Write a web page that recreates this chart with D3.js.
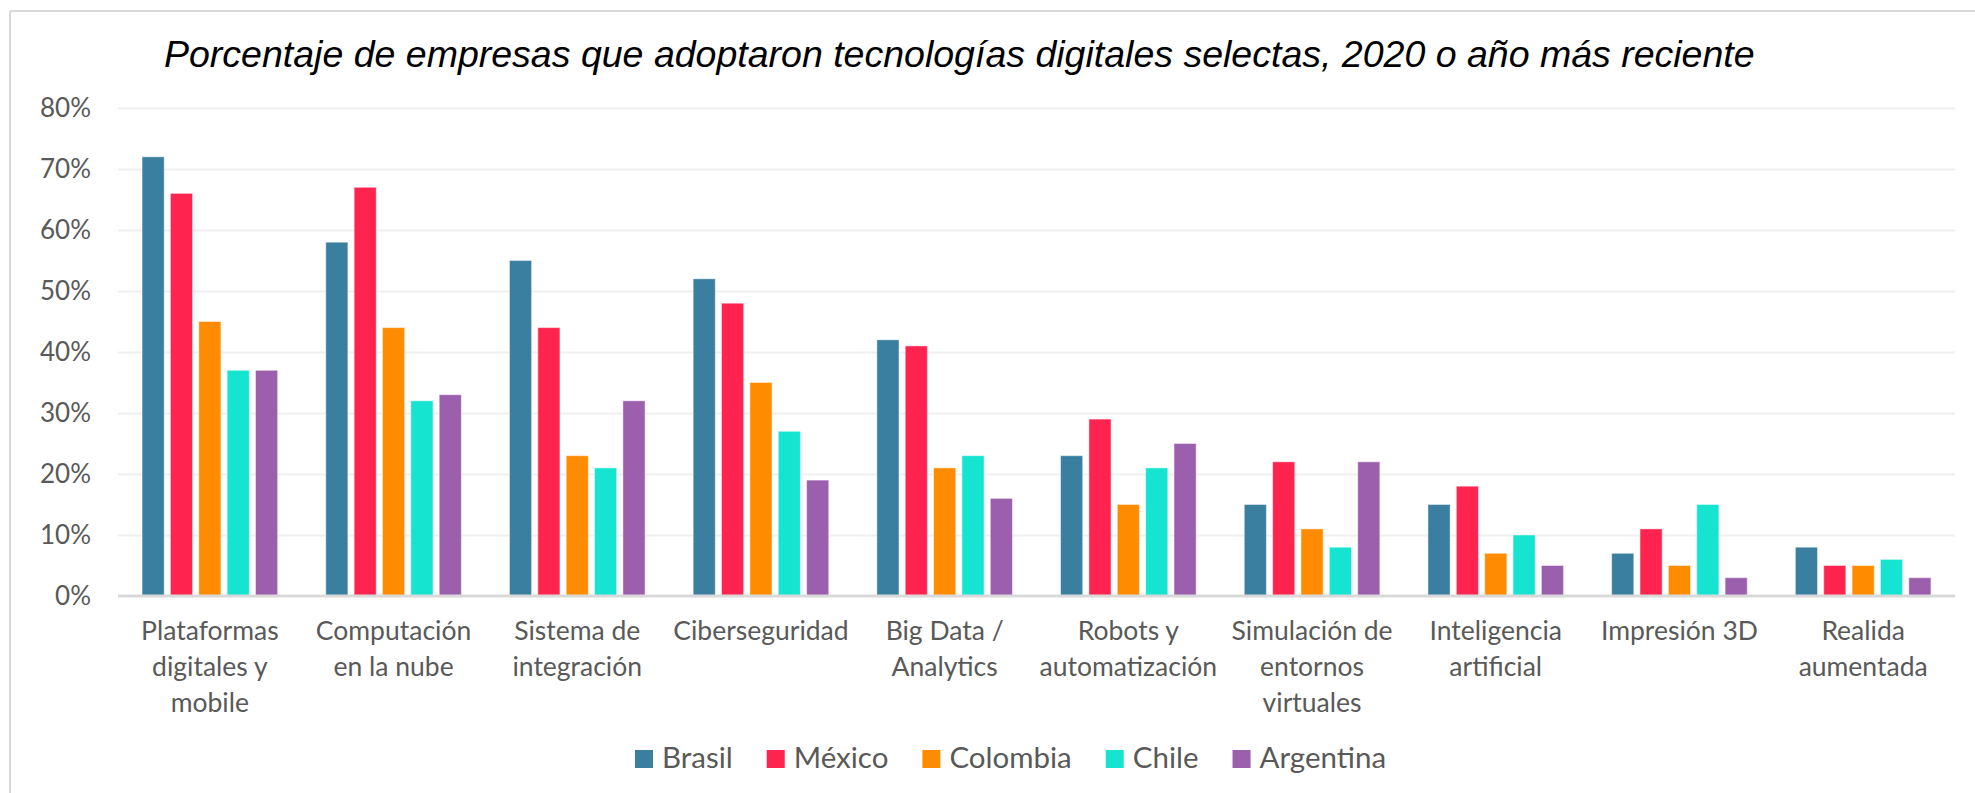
<!DOCTYPE html>
<html>
<head>
<meta charset="utf-8">
<script src="https://cdn.jsdelivr.net/npm/d3@7"></script>
<style>
  html, body { margin: 0; padding: 0; background: #fff; }
  svg { display: block; }
</style>
</head>
<body>
<svg id="chart" width="1975" height="793"></svg>
<script>
const title = "Porcentaje de empresas que adoptaron tecnologías digitales selectas, 2020 o año más reciente";
const categories = [
  ["Plataformas", "digitales y", "mobile"],
  ["Computación", "en la nube"],
  ["Sistema de", "integración"],
  ["Ciberseguridad"],
  ["Big Data /", "Analytics"],
  ["Robots y", "automatización"],
  ["Simulación de", "entornos", "virtuales"],
  ["Inteligencia", "artificial"],
  ["Impresión 3D"],
  ["Realida", "aumentada"]
];
const seriesNames = ["Brasil", "México", "Colombia", "Chile", "Argentina"];
const seriesColors = ["#3a7fa0", "#ff2450", "#ff8c00", "#14e4d0", "#9b5fae"];
const brasil    = [72, 58, 55, 52, 42, 23, 15, 15, 7, 8];
const mexico    = [66, 67, 44, 48, 41, 29, 22, 18, 11, 5];
const colombia  = [45, 44, 23, 35, 21, 15, 11, 7, 5, 5];
const chile     = [37, 32, 21, 27, 23, 21, 8, 10, 15, 6];
const argentina = [37, 33, 32, 19, 16, 25, 22, 5, 3, 3];
const seriesValues = [brasil, mexico, colombia, chile, argentina];
const yTicks = [0, 10, 20, 30, 40, 50, 60, 70, 80];

const svg = d3.select("#chart");
const W = 1975, H = 793;
const plot = { left: 118, right: 1955, top: 108, bottom: 596 };
const labelFont = "Lato, 'Open Sans', sans-serif";
const textColor = "#595959";

svg.append("rect").attr("width", W).attr("height", H).attr("fill", "#fff");
// chart border
svg.append("line").attr("x1", 10).attr("x2", W).attr("y1", 11).attr("y2", 11)
  .attr("stroke", "#d9d9d9").attr("stroke-width", 2);
svg.append("line").attr("x1", 10).attr("x2", 10).attr("y1", 11).attr("y2", H)
  .attr("stroke", "#d9d9d9").attr("stroke-width", 2);

// title
svg.append("text")
  .attr("x", 164).attr("y", 67)
  .attr("font-family", "Arial, 'Liberation Sans', sans-serif")
  .attr("font-style", "italic")
  .attr("font-size", 37.5)
  .attr("fill", "#000")
  .text(title);

const y = d3.scaleLinear().domain([0, 80]).range([plot.bottom, plot.top]);
const x0 = d3.scaleBand().domain(d3.range(categories.length))
  .range([plot.left, plot.right]).paddingInner(0.262).paddingOuter(0.131);
const x1 = d3.scaleBand().domain(d3.range(seriesNames.length))
  .range([0, x0.bandwidth()]).paddingInner(0.22);

// gridlines
const yAxis = d3.axisLeft(y).tickValues(yTicks).tickFormat(d => d + "%")
  .tickSize(-(plot.right - plot.left)).tickPadding(27);
const gy = svg.append("g").attr("transform", `translate(${plot.left},0)`).call(yAxis);
gy.select(".domain").remove();
gy.selectAll(".tick line").attr("stroke", "#efefef").attr("stroke-width", 2)
  .filter(d => d === 0).remove();
gy.selectAll(".tick text")
  .attr("font-family", labelFont).attr("font-size", 26).attr("fill", textColor);

// bars
const groups = svg.append("g").selectAll("g")
  .data(categories).join("g")
  .attr("transform", (d, i) => `translate(${x0(i)},0)`);
groups.selectAll("rect")
  .data((d, i) => seriesValues.map((vals, s) => ({ s, v: vals[i] })))
  .join("rect")
  .attr("x", d => x1(d.s))
  .attr("width", x1.bandwidth())
  .attr("y", d => y(d.v))
  .attr("height", d => y(0) - y(d.v))
  .attr("fill", d => seriesColors[d.s])
  .attr("stroke", "#ffffff").attr("stroke-opacity", 0.45).attr("stroke-width", 1);

// x axis line
svg.append("line").attr("x1", plot.left).attr("x2", plot.right)
  .attr("y1", y(0)).attr("y2", y(0))
  .attr("stroke", "#d9d9d9").attr("stroke-width", 3);

// category labels
const xAxis = d3.axisBottom(x0).tickSize(0).tickFormat("");
svg.append("g").attr("transform", `translate(0,${y(0)})`).call(xAxis)
  .call(g => g.select(".domain").remove());
const lbl = svg.append("g");
categories.forEach((lines, i) => {
  const t = lbl.append("text")
    .attr("x", x0(i) + x0.bandwidth() / 2)
    .attr("y", 640)
    .attr("text-anchor", "middle")
    .attr("font-family", labelFont).attr("font-size", 26.5).attr("fill", textColor);
  lines.forEach((ln, k) => {
    t.append("tspan").attr("x", x0(i) + x0.bandwidth() / 2)
      .attr("dy", k === 0 ? 0 : 36).text(ln);
  });
});

// legend
const legend = svg.append("g");
let lx = 635;
seriesNames.forEach((name, s) => {
  legend.append("rect").attr("x", lx).attr("y", 750).attr("width", 18).attr("height", 18)
    .attr("fill", seriesColors[s]);
  const t = legend.append("text").attr("x", lx + 27).attr("y", 768)
    .attr("font-family", labelFont).attr("font-size", 29.5).attr("fill", textColor)
    .text(name);
  lx += 27 + t.node().getComputedTextLength() + 34;
});
</script>
</body>
</html>
